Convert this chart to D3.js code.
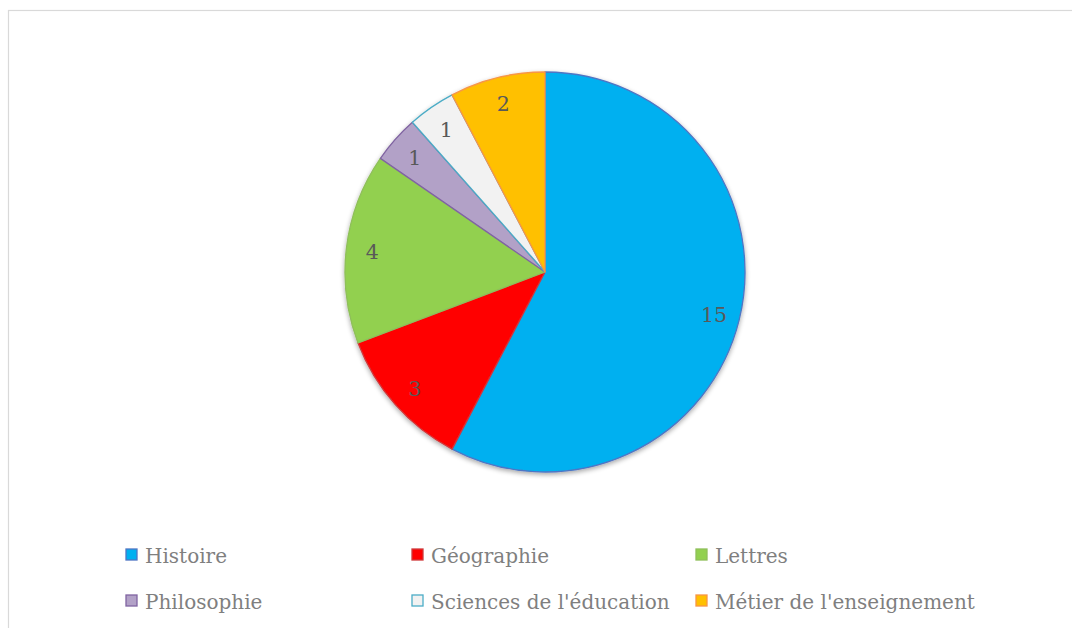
<!DOCTYPE html>
<html><head><meta charset="utf-8">
<script src="https://cdn.jsdelivr.net/npm/d3@7"></script>
<style>html,body{margin:0;padding:0;background:#fff;}svg{display:block;}</style>
</head><body>
<svg id="chart" width="1072" height="628"></svg>
<script>
const categories = ["Histoire","Géographie","Lettres","Philosophie","Sciences de l'éducation","Métier de l'enseignement"];
const values = [15,3,4,1,1,2];
const fills = ["#00b0f0","#ff0000","#92d050","#b2a1c7","#f2f2f2","#ffc000"];
const strokes = ["#4f76c4","#d0393b","#8fbf5a","#8064a2","#4bacc6","#f79646"];

const svg = d3.select("#chart");
const W = 1072, H = 628;
svg.append("rect").attr("x",8.5).attr("y",10.5).attr("width",W).attr("height",H)
  .attr("fill","#fff").attr("stroke","#d9d9d9").attr("stroke-width",1.2);

const defs = svg.append("defs");
const f = defs.append("filter").attr("id","sh").attr("x","-20%").attr("y","-20%").attr("width","140%").attr("height","140%");
f.append("feGaussianBlur").attr("in","SourceAlpha").attr("stdDeviation",2.5);
f.append("feOffset").attr("dx",0).attr("dy",2).attr("result","b");
f.append("feComponentTransfer").append("feFuncA").attr("type","linear").attr("slope",0.35);
const m = f.append("feMerge"); m.append("feMergeNode"); m.append("feMergeNode").attr("in","SourceGraphic");

const cx = 545, cy = 272, R = 200;
const pie = d3.pie().sort(null).value(d=>d)(values);
const arc = d3.arc().innerRadius(0).outerRadius(R);
const g = svg.append("g").attr("transform",`translate(${cx},${cy})`);
const gs = g.append("g").attr("filter","url(#sh)");
gs.selectAll("path").data(pie).join("path")
  .attr("d",arc).attr("fill",(d,i)=>fills[i]).attr("stroke",(d,i)=>strokes[i]).attr("stroke-width",1.3)
  .attr("stroke-linejoin","round");

const lab = d3.arc().innerRadius(R*0.87).outerRadius(R*0.87);
g.selectAll("text").data(pie).join("text")
  .attr("x",d=>lab.centroid(d)[0]).attr("y",d=>lab.centroid(d)[1])
  .attr("text-anchor","middle").attr("dy","0.4em")
  .attr("font-family","'DejaVu Serif', serif").attr("font-size",20.5).attr("fill","#595959")
  .text(d=>d.data);

const legX = [126,412,696], legY = [555,601];
const lg = svg.append("g");
categories.forEach((c,i)=>{
  const x = legX[i%3], y = legY[Math.floor(i/3)];
  lg.append("rect").attr("x",x).attr("y",y-6).attr("width",11).attr("height",11)
    .attr("fill",fills[i]).attr("stroke",strokes[i]).attr("stroke-width",1.3);
  lg.append("text").attr("x",x+19).attr("y",y).attr("dy","0.38em")
    .attr("font-family","'DejaVu Serif', serif").attr("font-size",20).attr("fill","#7f7f7f").text(c);
});
</script>
</body></html>
